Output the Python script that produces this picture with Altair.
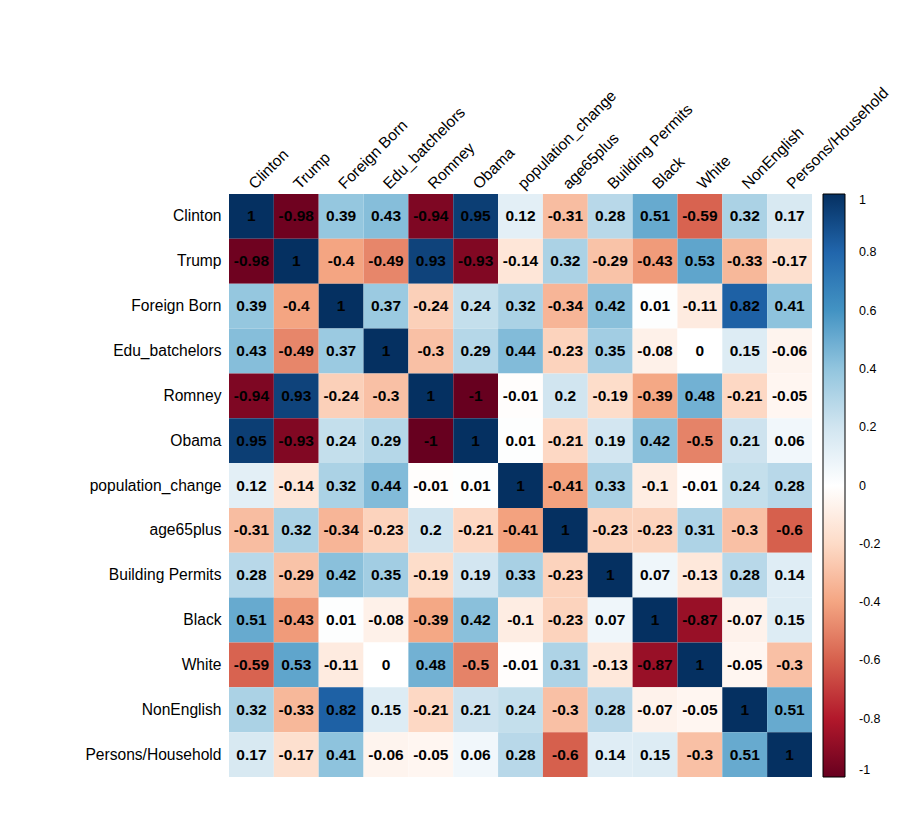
import altair as alt
import pandas as pd

variables = ["Clinton", "Trump", "Foreign Born", "Edu_batchelors", "Romney", "Obama",
             "population_change", "age65plus", "Building Permits", "Black", "White",
             "NonEnglish", "Persons/Household"]

r_clinton = [1, -0.98, 0.39, 0.43, -0.94, 0.95, 0.12, -0.31, 0.28, 0.51, -0.59, 0.32, 0.17]
r_trump = [-0.98, 1, -0.4, -0.49, 0.93, -0.93, -0.14, 0.32, -0.29, -0.43, 0.53, -0.33, -0.17]
r_foreign = [0.39, -0.4, 1, 0.37, -0.24, 0.24, 0.32, -0.34, 0.42, 0.01, -0.11, 0.82, 0.41]
r_edu = [0.43, -0.49, 0.37, 1, -0.3, 0.29, 0.44, -0.23, 0.35, -0.08, 0, 0.15, -0.06]
r_romney = [-0.94, 0.93, -0.24, -0.3, 1, -1, -0.01, 0.2, -0.19, -0.39, 0.48, -0.21, -0.05]
r_obama = [0.95, -0.93, 0.24, 0.29, -1, 1, 0.01, -0.21, 0.19, 0.42, -0.5, 0.21, 0.06]
r_popchange = [0.12, -0.14, 0.32, 0.44, -0.01, 0.01, 1, -0.41, 0.33, -0.1, -0.01, 0.24, 0.28]
r_age65 = [-0.31, 0.32, -0.34, -0.23, 0.2, -0.21, -0.41, 1, -0.23, -0.23, 0.31, -0.3, -0.6]
r_permits = [0.28, -0.29, 0.42, 0.35, -0.19, 0.19, 0.33, -0.23, 1, 0.07, -0.13, 0.28, 0.14]
r_black = [0.51, -0.43, 0.01, -0.08, -0.39, 0.42, -0.1, -0.23, 0.07, 1, -0.87, -0.07, 0.15]
r_white = [-0.59, 0.53, -0.11, 0, 0.48, -0.5, -0.01, 0.31, -0.13, -0.87, 1, -0.05, -0.3]
r_nonenglish = [0.32, -0.33, 0.82, 0.15, -0.21, 0.21, 0.24, -0.3, 0.28, -0.07, -0.05, 1, 0.51]
r_persons = [0.17, -0.17, 0.41, -0.06, -0.05, 0.06, 0.28, -0.6, 0.14, 0.15, -0.3, 0.51, 1]

matrix = [r_clinton, r_trump, r_foreign, r_edu, r_romney, r_obama, r_popchange,
          r_age65, r_permits, r_black, r_white, r_nonenglish, r_persons]

color_stops = [-1, -0.8, -0.6, -0.4, -0.2, 0, 0.2, 0.4, 0.6, 0.8, 1]
color_range = ["#67001F", "#B2182B", "#D6604D", "#F4A582", "#FDDBC7", "#FFFFFF",
               "#D1E5F0", "#92C5DE", "#4393C3", "#2166AC", "#053061"]
legend_values = [1, 0.8, 0.6, 0.4, 0.2, 0, -0.2, -0.4, -0.6, -0.8, -1]

records = []
for rname, rvals in zip(variables, matrix):
    for cname, v in zip(variables, rvals):
        records.append({"row": rname, "col": cname, "value": v, "label": f"{v:g}"})
df = pd.DataFrame(records)

FONT = "Liberation Sans"
band = alt.Scale(paddingInner=0, paddingOuter=0)

x_enc = alt.X("col:N", sort=variables, scale=band,
              axis=alt.Axis(orient="top", title=None, labelAngle=315, labelAlign="left",
                            labelBaseline="middle", labelFontSize=15.6, labelFont=FONT,
                            labelColor="black", ticks=False, domain=False, labelPadding=8,
                            labelOverlap=False, labelLimit=400))
y_enc = alt.Y("row:N", sort=variables, scale=band,
              axis=alt.Axis(title=None, labelFontSize=15.6, labelFont=FONT, labelColor="black",
                            ticks=False, domain=False, labelPadding=8, labelOverlap=False,
                            labelLimit=400))

rect = alt.Chart(df).mark_rect().encode(
    x=x_enc, y=y_enc,
    color=alt.Color("value:Q",
                    scale=alt.Scale(domain=color_stops, range=color_range, interpolate="rgb"),
                    legend=alt.Legend(orient="none", legendX=594, legendY=0, direction="vertical",
                                      title=None, gradientLength=583, gradientThickness=22,
                                      gradientStrokeColor="black", gradientStrokeWidth=1,
                                      values=legend_values, labelFontSize=12.5, labelFont=FONT,
                                      labelColor="black", labelOverlap=False, labelAlign="left",
                                      labelOffset=14, labelExpr="'' + datum.value")),
)

text = alt.Chart(df).mark_text(font=FONT, fontWeight="bold", fontSize=15.5, color="black").encode(
    x=alt.X("col:N", sort=variables, scale=band),
    y=alt.Y("row:N", sort=variables, scale=band),
    text="label:N",
)

chart = (rect + text).properties(
    width=583, height=583,
    autosize=alt.AutoSizeParams(type="none"),
    padding={"left": 229, "top": 194, "right": 88, "bottom": 42},
    background="white",
).configure_view(stroke=None)

chart.save("out.html", embed_options={"renderer": "svg", "actions": False})
